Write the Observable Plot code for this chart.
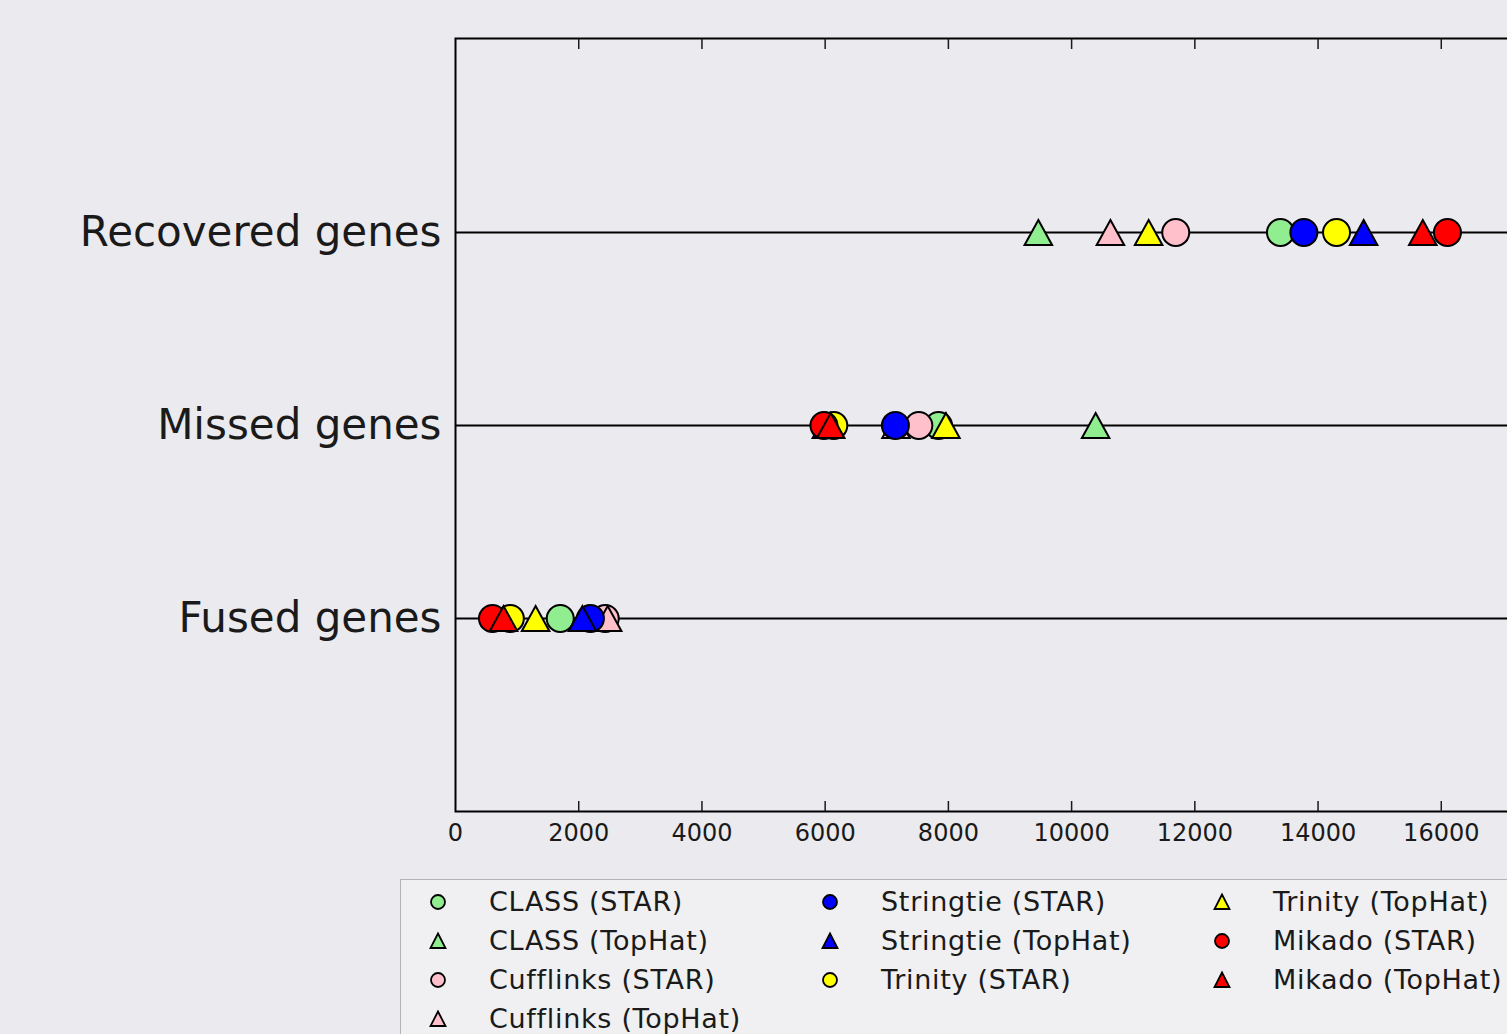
<!DOCTYPE html>
<html>
<head>
<meta charset="utf-8">
<script src="https://cdn.jsdelivr.net/npm/d3@7"></script>
<script src="https://cdn.jsdelivr.net/npm/@observablehq/plot@0.6"></script>
<style>
  html, body { margin: 0; padding: 0; background: #eaeaef; overflow: hidden; width: 1507px; height: 1034px; }
  #chart { position: absolute; left: 0; top: 0; width: 1600px; }
  #chart svg { max-width: none !important; }
  #legend {
    position: absolute; left: 400px; top: 879px; width: 1200px; height: 300px;
    background: #f0f0f2; border: 1px solid #b4b4b4; box-sizing: border-box;
    display: grid; grid-template-rows: repeat(4, 39px);
    grid-template-columns: repeat(3, 392px); padding-left: 27px; padding-top: 2px;
    font-family: "DejaVu Sans", sans-serif; font-size: 27px; letter-spacing: 0.7px; color: #1a1a1a;
  }
  .item { display: flex; align-items: center; height: 39px; white-space: nowrap; }
  .item svg { width: 20px; height: 20px; margin-right: 41px; flex: none; }
</style>
</head>
<body>
<div id="chart"></div>
<div id="legend"></div>
<script>
// Categories (top to bottom)
const categories = ["Recovered genes", "Missed genes", "Fused genes"];
// Method names, colours and marker shapes (legend order)
const methods = ["CLASS (STAR)", "CLASS (TopHat)", "Cufflinks (STAR)", "Cufflinks (TopHat)",
  "Stringtie (STAR)", "Stringtie (TopHat)", "Trinity (STAR)", "Trinity (TopHat)",
  "Mikado (STAR)", "Mikado (TopHat)"];
const colors = ["#90ee90", "#90ee90", "#ffc0cb", "#ffc0cb", "#0000ff", "#0000ff",
  "#ffff00", "#ffff00", "#ff0000", "#ff0000"];
const shapes = ["circle", "triangle", "circle", "triangle", "circle", "triangle",
  "circle", "triangle", "circle", "triangle"];
// Values per method: [Recovered, Missed, Fused]
const recovered = [13390, 9460, 11690, 10630, 13770, 14740, 14300, 11250, 16100, 15700];
const missed    = [7840, 10390, 7520, 7150, 7140, 6020, 6140, 7960, 5980, 6090];
const fused     = [1700, 2150, 2430, 2470, 2190, 2060, 890, 1300, 600, 780];
// Tick values
const xTicks = [0, 2000, 4000, 6000, 8000, 10000, 12000, 14000, 16000];

const rows = [];
methods.forEach((m, i) => {
  rows.push({method: m, category: categories[0], value: recovered[i]});
  rows.push({method: m, category: categories[1], value: missed[i]});
  rows.push({method: m, category: categories[2], value: fused[i]});
});

// bbox-centred triangle like matplotlib '^'
const tri = {
  draw(ctx, size) {
    const a = Math.sqrt(size / Math.PI);
    ctx.moveTo(0, -a);
    ctx.lineTo(a * 1.1, a);
    ctx.lineTo(-a * 1.1, a);
    ctx.closePath();
  }
};

const dotMarks = methods.map((m, i) => Plot.dot(rows.filter(r => r.method === m), {
  x: "value", y: "category",
  symbol: shapes[i] === "circle" ? "circle" : tri,
  fill: colors[i], stroke: "black", strokeWidth: 2,
  r: shapes[i] === "circle" ? 13.5 : 12.5
}));

const chart = Plot.plot({
  width: 1564,
  height: 860,
  marginLeft: 455,
  marginRight: 0,
  marginTop: 38,
  marginBottom: 49,
  style: {background: "transparent", fontFamily: "DejaVu Sans, sans-serif", color: "#1a1a1a", maxWidth: "none"},
  x: {domain: [0, 18000], label: null},
  y: {type: "point", domain: categories, padding: 1, label: null},
  marks: [
    Plot.ruleY(categories, {y: d => d, stroke: "black", strokeWidth: 2}),
    ...dotMarks,
    Plot.frame({stroke: "black", strokeWidth: 2}),
    Plot.axisX({anchor: "bottom", ticks: xTicks, tickFormat: d3.format("d"), tickSize: 0, tickPadding: 12, fontSize: 24, label: null}),
    Plot.axisX({anchor: "bottom", ticks: xTicks.slice(1), tickSize: -10, text: null, label: null, strokeWidth: 1.5}),
    Plot.axisX({anchor: "top", ticks: xTicks.slice(1), tickSize: -10, text: null, label: null, strokeWidth: 1.5}),
    Plot.axisY({anchor: "left", tickSize: 0, tickPadding: 14, fontSize: 42, label: null})
  ]
});
document.getElementById("chart").appendChild(chart);

// Legend: matplotlib ncol=3 fills columns 4, 3, 3
const legend = document.getElementById("legend");
const perCol = [4, 3, 3];
let idx = 0;
perCol.forEach((n, c) => {
  for (let r = 0; r < n; r++, idx++) {
    const i = idx;
    const item = document.createElement("div");
    item.className = "item";
    item.style.gridColumn = String(c + 1);
    item.style.gridRow = String(r + 1);
    const marker = shapes[i] === "circle"
      ? `<circle cx="10" cy="10" r="7" fill="${colors[i]}" stroke="black" stroke-width="1.8"/>`
      : `<path d="M10,2.5 L17.5,17 L2.5,17 Z" fill="${colors[i]}" stroke="black" stroke-width="1.8"/>`;
    item.innerHTML = `<svg viewBox="0 0 20 20">${marker}</svg><span>${methods[i]}</span>`;
    legend.appendChild(item);
  }
});
</script>
</body>
</html>
